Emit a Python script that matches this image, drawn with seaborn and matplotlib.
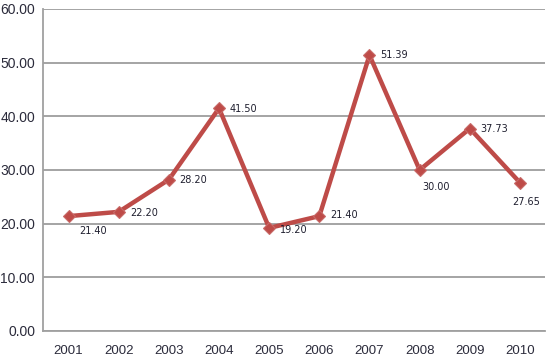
import pandas as pd
import matplotlib
matplotlib.use("Agg")
import matplotlib.pyplot as plt
import seaborn as sns

# datos
years = ["2001", "2002", "2003", "2004", "2005", "2006", "2007", "2008", "2009", "2010"]
values = [21.40, 22.20, 28.20, 41.50, 19.20, 21.40, 51.39, 30.00, 37.73, 27.65]
# desplazamiento de cada etiqueta (pixeles)
label_dx = [11, 12, 10, 11, 11, 11, 11, 3, 11, -8]
label_dy = [-15, -1, 0, -1, -2, 1, 0, -17, 0, -19]

df = pd.DataFrame({"anio": years, "valor": values})

sns.set_style("white")
plt.rcParams["font.family"] = ["Liberation Sans", "DejaVu Sans"]

fig = plt.figure(figsize=(5.5, 3.64), dpi=100)
ax = fig.add_axes([0.079, 0.0907, 0.912, 0.8846])

ax.yaxis.grid(True, color="#8c8c8c", linewidth=1.1)
ax.set_axisbelow(True)

sns.lineplot(data=df, x="anio", y="valor", ax=ax, color="#be4b48", linewidth=3.2,
             marker="D", markersize=6.5, markeredgecolor="#c86a68", markeredgewidth=0.8,
             sort=False, zorder=3)

for i, v in enumerate(values):
    ax.annotate(f"{v:.2f}", (i, v), xytext=(label_dx[i], label_dy[i]),
                textcoords="offset pixels", ha="left", va="center",
                fontsize=7, color="#1f1f2f", family=["DejaVu Sans"])

ax.set_ylim(0, 60)
ax.set_yticks(range(0, 61, 10))
ax.set_yticklabels([f"{t:.2f}" for t in range(0, 61, 10)])
ax.set_xlim(-0.5, len(years) - 0.5)
ax.set_xticks([i + 0.5 for i in range(-1, len(years))])
ax.set_xticklabels([])
ax.set_xticks(range(len(years)), minor=True)
ax.set_xticklabels(years, minor=True)
ax.tick_params(axis="x", which="major", length=5, color="#8c8c8c", width=1.1, direction="out")
ax.tick_params(axis="x", which="minor", length=0, pad=10, labelsize=9.5, labelcolor="#2b2b3b")
ax.tick_params(axis="y", length=5, color="#8c8c8c", width=1.1, direction="out",
               labelsize=10, labelcolor="#2b2b3b", pad=1)
ax.set_xlabel("")
ax.set_ylabel("")

for s in ["top", "right"]:
    ax.spines[s].set_visible(False)
for s in ["left", "bottom"]:
    ax.spines[s].set_color("#a0a0a0")
    ax.spines[s].set_linewidth(1.3)

fig.savefig("out.png", dpi=100)
